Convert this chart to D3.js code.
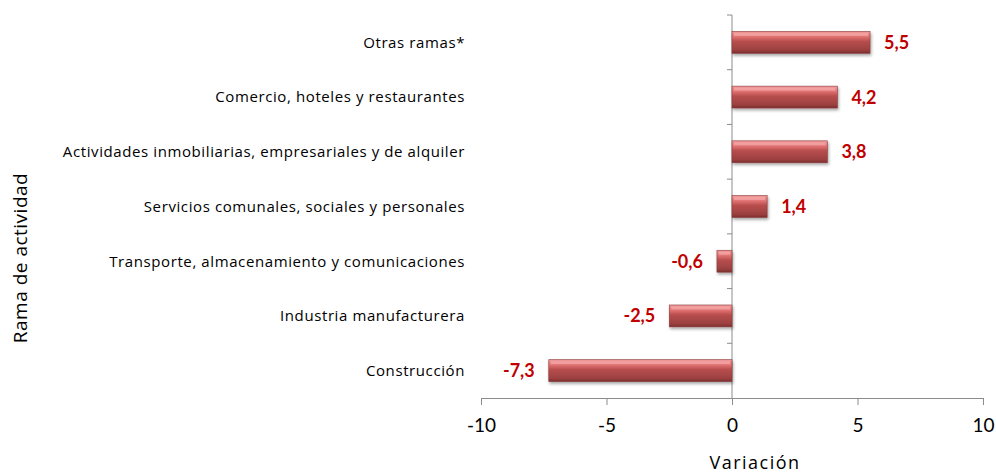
<!DOCTYPE html>
<html>
<head>
<meta charset="utf-8">
<script src="https://cdn.jsdelivr.net/npm/d3@7"></script>
<style>
  body { margin: 0; background: #fff; }
  text { font-family: "Open Sans", Lato, sans-serif; }
</style>
</head>
<body>
<div id="chart"></div>
<script>
const categories = [
  "Otras ramas*",
  "Comercio, hoteles y restaurantes",
  "Actividades inmobiliarias, empresariales y de alquiler",
  "Servicios comunales, sociales y personales",
  "Transporte, almacenamiento y comunicaciones",
  "Industria manufacturera",
  "Construcción"
];
const values = [5.5, 4.2, 3.8, 1.4, -0.6, -2.5, -7.3];
const valueLabels = ["5,5", "4,2", "3,8", "1,4", "-0,6", "-2,5", "-7,3"];
const xTicks = [-10, -5, 0, 5, 10];

const width = 996, height = 476;
const plot = {left: 481, right: 983, top: 15, bottom: 398};

let svg = d3.select("#chart")
    .append("svg")
    .attr("width", width)
    .attr("height", height);

let defs = svg.append("defs");
let grad = defs.append("linearGradient")
    .attr("id", "barGrad")
    .attr("x1", 0).attr("y1", 0).attr("x2", 0).attr("y2", 1);
grad.append("stop").attr("offset", "0%").attr("stop-color", "#f29a9a");
grad.append("stop").attr("offset", "25%").attr("stop-color", "#e07070");
grad.append("stop").attr("offset", "45%").attr("stop-color", "#b84e4e");
grad.append("stop").attr("offset", "85%").attr("stop-color", "#9c4040");
grad.append("stop").attr("offset", "100%").attr("stop-color", "#7a2e2e");

let shadow = defs.append("filter").attr("id", "shadow")
    .attr("x", "-10%").attr("y", "-30%").attr("width", "130%").attr("height", "180%");
shadow.append("feDropShadow")
    .attr("dx", 1).attr("dy", 2).attr("stdDeviation", 1.5)
    .attr("flood-color", "#000").attr("flood-opacity", 0.35);

let x = d3.scaleLinear()
    .domain([-10, 10])
    .range([plot.left, plot.right]);

let y = d3.scaleBand()
    .domain(categories)
    .range([plot.top, plot.bottom])
    .paddingInner(0.6)
    .paddingOuter(0.3);

// x axis
let xAxis = svg.append("g")
    .attr("transform", `translate(0,${plot.bottom})`)
    .call(d3.axisBottom(x).tickValues(xTicks).tickFormat(d => String(d))
        .tickSize(7).tickSizeOuter(7).tickPadding(14));
xAxis.select(".domain").attr("stroke", "#8c8c8c");
xAxis.selectAll(".tick line").attr("stroke", "#8c8c8c");
xAxis.selectAll(".tick text")
    .style("font-size", "19px")
    .attr("fill", "#000")
    .style("font-family", "Lato, sans-serif");

// zero axis with category boundary ticks
let zero = svg.append("g");
zero.append("line")
    .attr("x1", x(0)).attr("x2", x(0))
    .attr("y1", plot.top).attr("y2", plot.bottom)
    .attr("stroke", "#8c8c8c");
let bounds = d3.range(0, categories.length).map(i => plot.top + i * (plot.bottom - plot.top) / categories.length);
zero.selectAll("line.tk")
    .data(bounds)
    .enter()
    .append("line")
    .attr("class", "tk")
    .attr("x1", x(0) - 5).attr("x2", x(0))
    .attr("y1", d => d).attr("y2", d => d)
    .attr("stroke", "#8c8c8c");

let data = categories.map((c, i) => ({name: c, value: values[i], label: valueLabels[i]}));

// bars
let bars = svg.append("g").selectAll("g.bar").data(data).enter().append("g");
bars.append("rect")
    .attr("x", d => x(Math.min(0, d.value)))
    .attr("y", d => y(d.name))
    .attr("width", d => Math.abs(x(d.value) - x(0)))
    .attr("height", y.bandwidth())
    .attr("fill", "url(#barGrad)")
    .attr("stroke", "#8a3a3a")
    .attr("stroke-width", 0.6)
    .attr("filter", "url(#shadow)");
// highlight bevel
bars.append("rect")
    .attr("x", d => x(Math.min(0, d.value)) + 2)
    .attr("y", d => y(d.name) + 1.5)
    .attr("width", d => Math.max(0, Math.abs(x(d.value) - x(0)) - 4))
    .attr("height", 3)
    .attr("fill", "#f7b0b0")
    .attr("opacity", 0.6);

// value labels
svg.append("g").selectAll("text").data(data).enter()
    .append("text")
    .attr("x", d => d.value >= 0 ? x(d.value) + 14 : x(d.value) - 14)
    .attr("y", d => y(d.name) + y.bandwidth() / 2)
    .attr("dy", "0.36em")
    .attr("text-anchor", d => d.value >= 0 ? "start" : "end")
    .style("font-size", "18px")
    .style("font-weight", "bold")
    .style("font-family", "Lato, sans-serif")
    .attr("fill", "#c00000")
    .text(d => d.label);

// category labels
svg.append("g").selectAll("text").data(data).enter()
    .append("text")
    .attr("x", 465)
    .attr("y", d => y(d.name) + y.bandwidth() / 2)
    .attr("dy", "0.36em")
    .attr("text-anchor", "end")
    .style("font-size", "15px")
    .style("letter-spacing", "0.6px")
    .attr("fill", "#000")
    .text(d => d.name);

// axis titles
svg.append("text")
    .attr("x", 755)
    .attr("y", 469)
    .attr("text-anchor", "middle")
    .style("font-size", "18px")
    .style("letter-spacing", "1.5px")
    .text("Variación");

svg.append("text")
    .attr("transform", `translate(27,${258}) rotate(-90)`)
    .attr("text-anchor", "middle")
    .style("font-size", "19px")
    .style("letter-spacing", "0.5px")
    .text("Rama de actividad");
</script>
</body>
</html>
